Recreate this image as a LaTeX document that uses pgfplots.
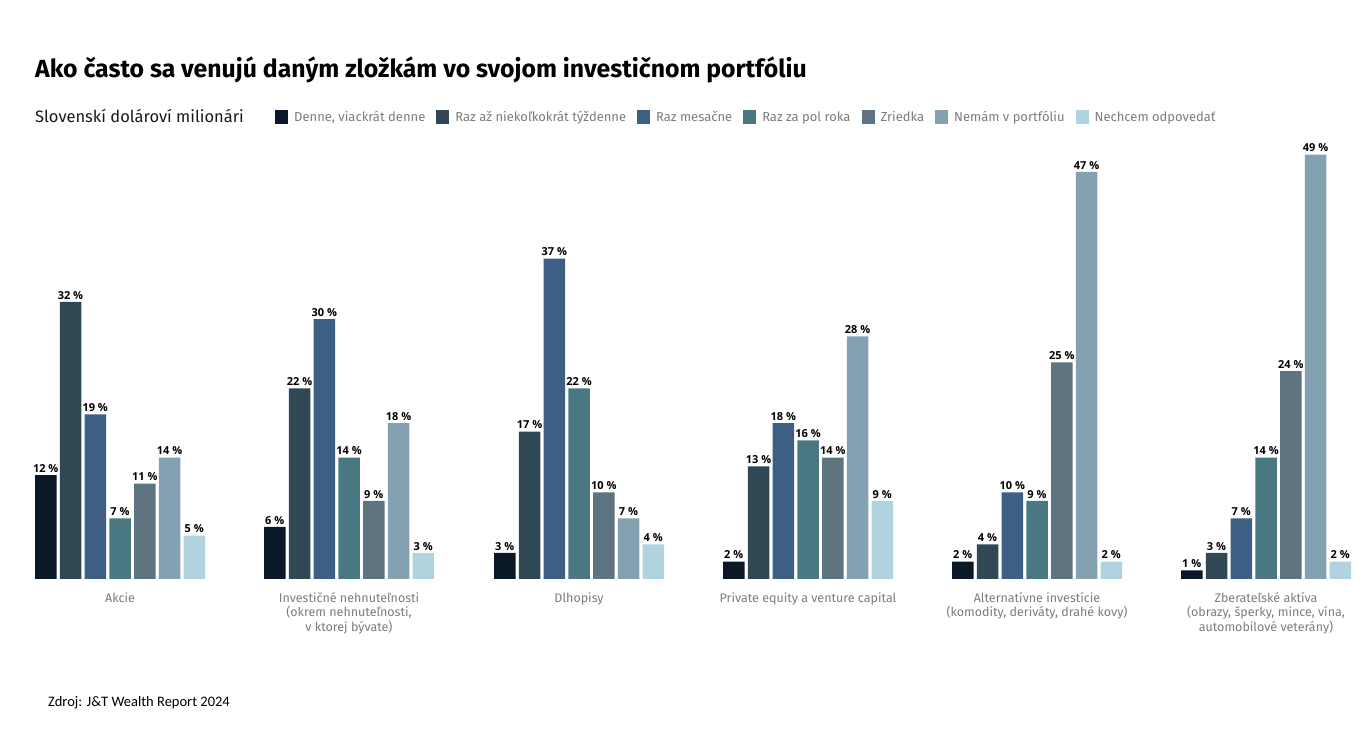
\documentclass[border=0pt]{standalone}
\usepackage{fontspec}
\setmainfont{Fira Sans}
\newfontfamily\labfont{Open Sans}
\newfontfamily\srcfont{Carlito}
\usepackage{pgfplots}
\pgfplotsset{compat=1.18}
\definecolor{c1}{HTML}{0B1828}
\definecolor{c2}{HTML}{2F4853}
\definecolor{c3}{HTML}{3E5F84}
\definecolor{c4}{HTML}{497883}
\definecolor{c5}{HTML}{5E7480}
\definecolor{c6}{HTML}{84A1B1}
\definecolor{c7}{HTML}{AFD3DF}
\definecolor{lgray}{HTML}{7C7C7C}
\pgfplotsset{myleg/.style={legend image code/.code={\fill[##1] (0pt,-7pt) rectangle (13pt,7pt);}}}
\begin{document}
\begin{tikzpicture}[x=1pt,y=1pt]
\path[use as bounding box] (0,0) rectangle (1367,753);
\node[anchor=base west, inner sep=0pt, font=\bfseries\fontsize{24.8}{28}\selectfont, text=black] at (35,675) {Ako často sa venujú daným zložkám vo svojom investičnom portfóliu};
\node[anchor=base west, inner sep=0pt, font=\fontsize{16.5}{19}\selectfont, text=black!90] at (35,630) {Slovenskí dolároví milionári};
\node[anchor=base west, inner sep=0pt, font=\srcfont\fontsize{14.5}{17}\selectfont, text=black] at (48,47) {Zdroj: J\&T Wealth Report 2024};
\begin{axis}[
  at={(0,201)}, anchor=origin,
  scale only axis, width=1367pt, height=476.3pt,
  xmin=0, xmax=1367, ymin=0, ymax=55,
  ybar=3.25pt, bar width=21.5pt,
  axis line style={draw=none},
  major tick length=0pt,
  ytick=\empty,
  xtick={120,349,579,808,1037,1266},
  xticklabels={Akcie,
    {Investičné nehnuteľnosti\\(okrem nehnuteľnosti,\\v ktorej bývate)},
    Dlhopisy,
    Private equity a venture capital,
    {Alternatívne investície\\(komodity, deriváty, drahé kovy)},
    {Zberateľské aktíva\\(obrazy, šperky, mince, vína,\\automobilové veterány)}},
  xticklabel style={align=center, font=\fontsize{12.5}{14.5}\selectfont, text=lgray, anchor=north, yshift=-10pt},
  clip=false,
  nodes near coords={\pgfmathprintnumber[assume math mode=true]{\pgfplotspointmeta}~\%},
  every node near coord/.append style={font=\labfont\bfseries\fontsize{11}{12}\selectfont, text=black, inner sep=2.5pt},
  legend columns=-1,
  legend style={draw=none, fill=none, at={(axis cs:272,53.35)}, anchor=west,
    font=\fontsize{13}{15}\selectfont, text=lgray,
    /tikz/every odd column/.append style={column sep=4pt},
    /tikz/every even column/.append style={column sep=9pt}},
  legend cell align=left,
]
\addplot[myleg, fill=c1, draw=none] coordinates {(120,12) (349,6) (579,3) (808,2) (1037,2) (1266,1)};
\addplot[myleg, fill=c2, draw=none] coordinates {(120,32) (349,22) (579,17) (808,13) (1037,4) (1266,3)};
\addplot[myleg, fill=c3, draw=none] coordinates {(120,19) (349,30) (579,37) (808,18) (1037,10) (1266,7)};
\addplot[myleg, fill=c4, draw=none] coordinates {(120,7) (349,14) (579,22) (808,16) (1037,9) (1266,14)};
\addplot[myleg, fill=c5, draw=none] coordinates {(120,11) (349,9) (579,10) (808,14) (1037,25) (1266,24)};
\addplot[myleg, fill=c6, draw=none] coordinates {(120,14) (349,18) (579,7) (808,28) (1037,47) (1266,49)};
\addplot[myleg, fill=c7, draw=none] coordinates {(120,5) (349,3) (579,4) (808,9) (1037,2) (1266,2)};
\legend{{Denne, viackrát denne}, Raz až niekoľkokrát týždenne, Raz mesačne, Raz za pol roka, Zriedka, Nemám v portfóliu, Nechcem odpovedať}
\end{axis}
\end{tikzpicture}
\end{document}
